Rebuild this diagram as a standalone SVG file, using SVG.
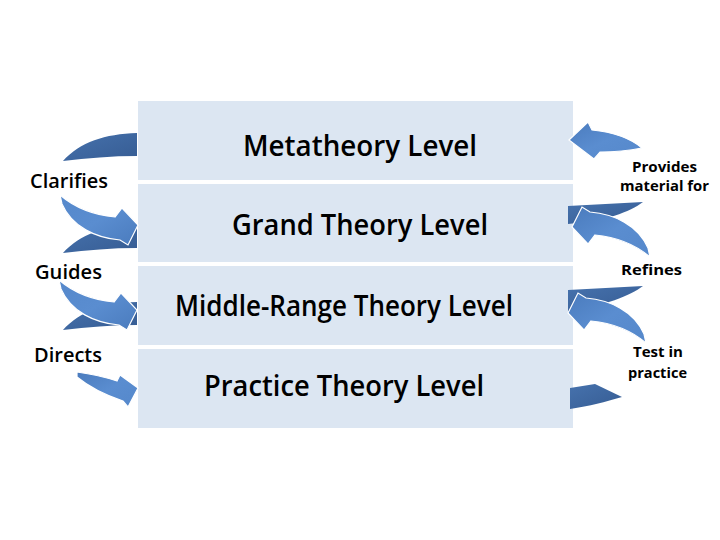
<svg xmlns="http://www.w3.org/2000/svg" width="720" height="540" viewBox="0 0 720 540">
<defs>
<style>
.box{fill:#dce6f2}
.t{font-family:"Open Sans","Liberation Sans",sans-serif;font-weight:600;font-size:28px;fill:#000;text-anchor:start}
.lb{font-family:"Open Sans","Liberation Sans",sans-serif;font-weight:600;font-size:19px;fill:#000}
.rb{font-family:"Open Sans","Liberation Sans",sans-serif;font-weight:700;font-size:15px;fill:#000}
.lt{fill:url(#gl);stroke:#fff;stroke-width:1.2;stroke-linejoin:miter}
.dk{fill:url(#gd)}
</style>
<linearGradient id="gl" x1="0" y1="0" x2="1" y2="1">
<stop offset="0" stop-color="#4a7bbd"/>
<stop offset="0.5" stop-color="#5a8dd0"/>
<stop offset="1" stop-color="#5588cb"/>
</linearGradient>
<linearGradient id="gd" x1="0" y1="0" x2="1" y2="1">
<stop offset="0" stop-color="#4672ad"/>
<stop offset="1" stop-color="#365c93"/>
</linearGradient>
<path id="cv" d="M 0,0 L 10,-20 L 18,-15 C 42,-13 66,-2 76,21 L 78,30 C 64,18 44,10 23,8 L 16,17 Z"/>
<path id="bk" d="M -74,27 C -57,8 -32,0 0,-1 L 0,22 C -25,22 -50,24 -74,27 Z"/>
</defs>
<rect width="720" height="540" fill="#fff"/>

<g id="metatheory">
<rect class="box" x="138" y="101" width="435" height="79"/>
<text class="t" x="243" y="156" textLength="234" lengthAdjust="spacingAndGlyphs">Metatheory Level</text>
</g>
<g id="grand">
<rect class="box" x="138" y="184" width="435" height="78"/>
<text class="t" x="232" y="235" textLength="256" lengthAdjust="spacingAndGlyphs">Grand Theory Level</text>
</g>
<g id="middle">
<rect class="box" x="138" y="266" width="435" height="79"/>
<text class="t" x="175" y="316" textLength="338" lengthAdjust="spacingAndGlyphs">Middle-Range Theory Level</text>
</g>
<g id="practice">
<rect class="box" x="138" y="349" width="435" height="79"/>
<text class="t" x="204" y="396" textLength="280" lengthAdjust="spacingAndGlyphs">Practice Theory Level</text>
</g>

<g id="connectors">
<!-- left side -->
<use href="#bk" class="dk" transform="translate(137,134)"/>
<use href="#bk" class="dk" transform="translate(137,226)"/>
<use href="#bk" class="dk" transform="translate(137,303)"/>
<use href="#cv" class="lt" transform="translate(138,225) rotate(180)"/>
<use href="#cv" class="lt" transform="translate(137,310) rotate(180)"/>
<path class="lt" d="M 138,388 L 128,407 L 123,401 C 105,395 88,386 77,377 L 77,372 C 92,374 105,377 117,381 L 120,375 Z"/>
<!-- right side -->
<path class="dk" d="M 568,206 L 643,202 C 630,212 605,221 568,224 Z"/>
<path class="dk" d="M 568,290 L 643,286 C 630,296 605,305 568,312 Z"/>
<path class="dk" d="M 570,388 L 595,384 L 622,397 C 605,402 590,406 570,409 Z"/>
<path class="lt" d="M 569,140 L 588,122 L 592,130 C 612,132 630,138 642,148 C 627,151 612,152 600,152 L 594,159 Z"/>
<use href="#cv" class="lt" transform="translate(572,227)"/>
<use href="#cv" class="lt" transform="translate(568,313)"/>
</g>

<g id="labels">
<text class="lb" x="30" y="188" textLength="78" lengthAdjust="spacingAndGlyphs">Clarifies</text>
<text class="lb" x="35" y="279" textLength="67" lengthAdjust="spacingAndGlyphs">Guides</text>
<text class="lb" x="34" y="362" textLength="68" lengthAdjust="spacingAndGlyphs">Directs</text>
<text class="rb" x="632" y="172" textLength="65" lengthAdjust="spacingAndGlyphs">Provides</text>
<text class="rb" x="620" y="191" textLength="89" lengthAdjust="spacingAndGlyphs">material for</text>
<text class="rb" x="621" y="275" font-size="17" textLength="61" lengthAdjust="spacingAndGlyphs">Refines</text>
<text class="rb" x="633" y="357" textLength="50" lengthAdjust="spacingAndGlyphs">Test in</text>
<text class="rb" x="628" y="378" textLength="59" lengthAdjust="spacingAndGlyphs">practice</text>
</g>
</svg>
